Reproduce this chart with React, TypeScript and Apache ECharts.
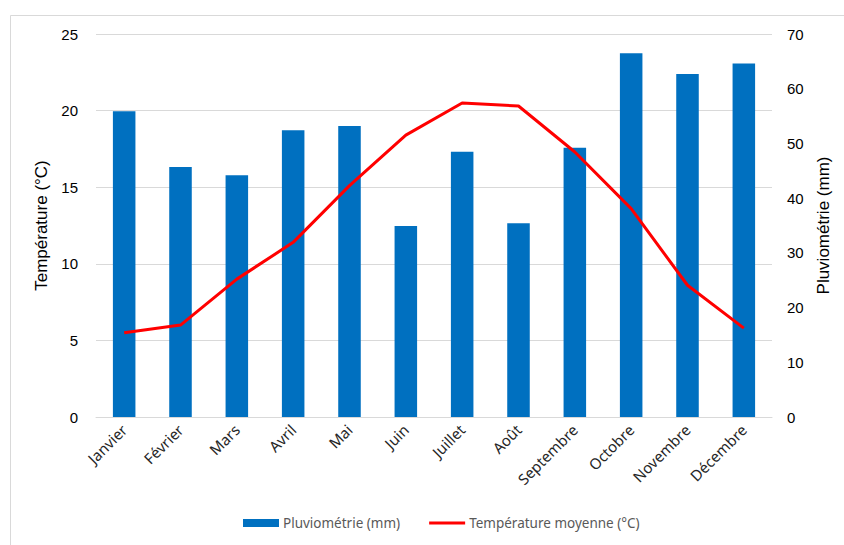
import React, { useEffect, useRef } from "react";
import * as echarts from "echarts";

const months = ["Janvier", "Février", "Mars", "Avril", "Mai", "Juin", "Juillet", "Août", "Septembre", "Octobre", "Novembre", "Décembre"];
const rainfall = [55.9, 45.7, 44.2, 52.4, 53.2, 34.9, 48.5, 35.4, 49.2, 66.5, 62.7, 64.6];
const temperature = [5.5, 6.0, 9.0, 11.4, 15.1, 18.4, 20.5, 20.3, 17.3, 13.6, 8.6, 5.8];

const lineIcon = "path://M0,0 L0.01,0 L0.01,0.01 Z M0,2.5 L36,2.5 L36,5.5 L0,5.5 Z M35.99,7.99 L36,7.99 L36,8 Z";

export default function App() {
  const ref = useRef<HTMLDivElement>(null);
  useEffect(() => {
    if (!ref.current) return;
    const chart = echarts.init(ref.current, undefined, { renderer: "svg" });
    chart.setOption({
      animation: false,
      backgroundColor: "#ffffff",
      graphic: [
        {
          type: "polyline",
          shape: { points: [[10.5, 560], [10.5, 15.5], [860, 15.5]] },
          style: { stroke: "#d9d9d9", lineWidth: 1, fill: "none" },
          silent: true,
        },
      ],
      grid: { left: 96, right: 72, top: 34, bottom: 128, containLabel: false },
      legend: {
        bottom: 10,
        left: 238,
        itemGap: 29,
        itemWidth: 36,
        itemHeight: 8,
        textStyle: { fontFamily: "Noto Sans", fontSize: 13.5, color: "#595959", padding: [0, 0, 0, -1] },
        data: [
          { name: "Pluviométrie (mm)", icon: "rect" },
          { name: "Température moyenne (°C)", icon: lineIcon },
        ],
      },
      xAxis: {
        type: "category",
        data: months,
        axisTick: { show: false },
        axisLine: { lineStyle: { color: "#d9d9d9" } },
        axisLabel: {
          rotate: 45,
          interval: 0,
          fontFamily: "Noto Sans",
          fontSize: 15,
          color: "#262626",
          margin: 10,
        },
      },
      yAxis: [
        {
          type: "value",
          min: 0,
          max: 25,
          interval: 5,
          name: "Température (°C)",
          nameLocation: "middle",
          nameRotate: 90,
          nameGap: 43,
          nameTextStyle: { fontFamily: "Liberation Sans", fontSize: 17, color: "#000" },
          axisLine: { show: false },
          axisTick: { show: false },
          axisLabel: { fontFamily: "Liberation Sans", fontSize: 15, color: "#000", margin: 18 },
          splitLine: { lineStyle: { color: "#d9d9d9" } },
        },
        {
          type: "value",
          min: 0,
          max: 70,
          interval: 10,
          name: "Pluviométrie (mm)",
          nameLocation: "middle",
          nameRotate: 90,
          nameGap: 41,
          nameTextStyle: { fontFamily: "Liberation Sans", fontSize: 17, color: "#000" },
          axisLine: { show: false },
          axisTick: { show: false },
          axisLabel: { fontFamily: "Liberation Sans", fontSize: 15, color: "#000", margin: 15 },
          splitLine: { show: false },
        },
      ],
      series: [
        {
          name: "Pluviométrie (mm)",
          type: "bar",
          yAxisIndex: 1,
          data: rainfall,
          barWidth: "40%",
          itemStyle: { color: "#0070c0" },
        },
        {
          name: "Température moyenne (°C)",
          type: "line",
          yAxisIndex: 0,
          data: temperature,
          symbol: "none",
          lineStyle: { color: "#ff0000", width: 3 },
          itemStyle: { color: "#ff0000" },
        },
      ],
    });
    return () => chart.dispose();
  }, []);
  return <div ref={ref} style={{ position: "fixed", left: 0, top: 0, width: 844, height: 545 }} />;
}
